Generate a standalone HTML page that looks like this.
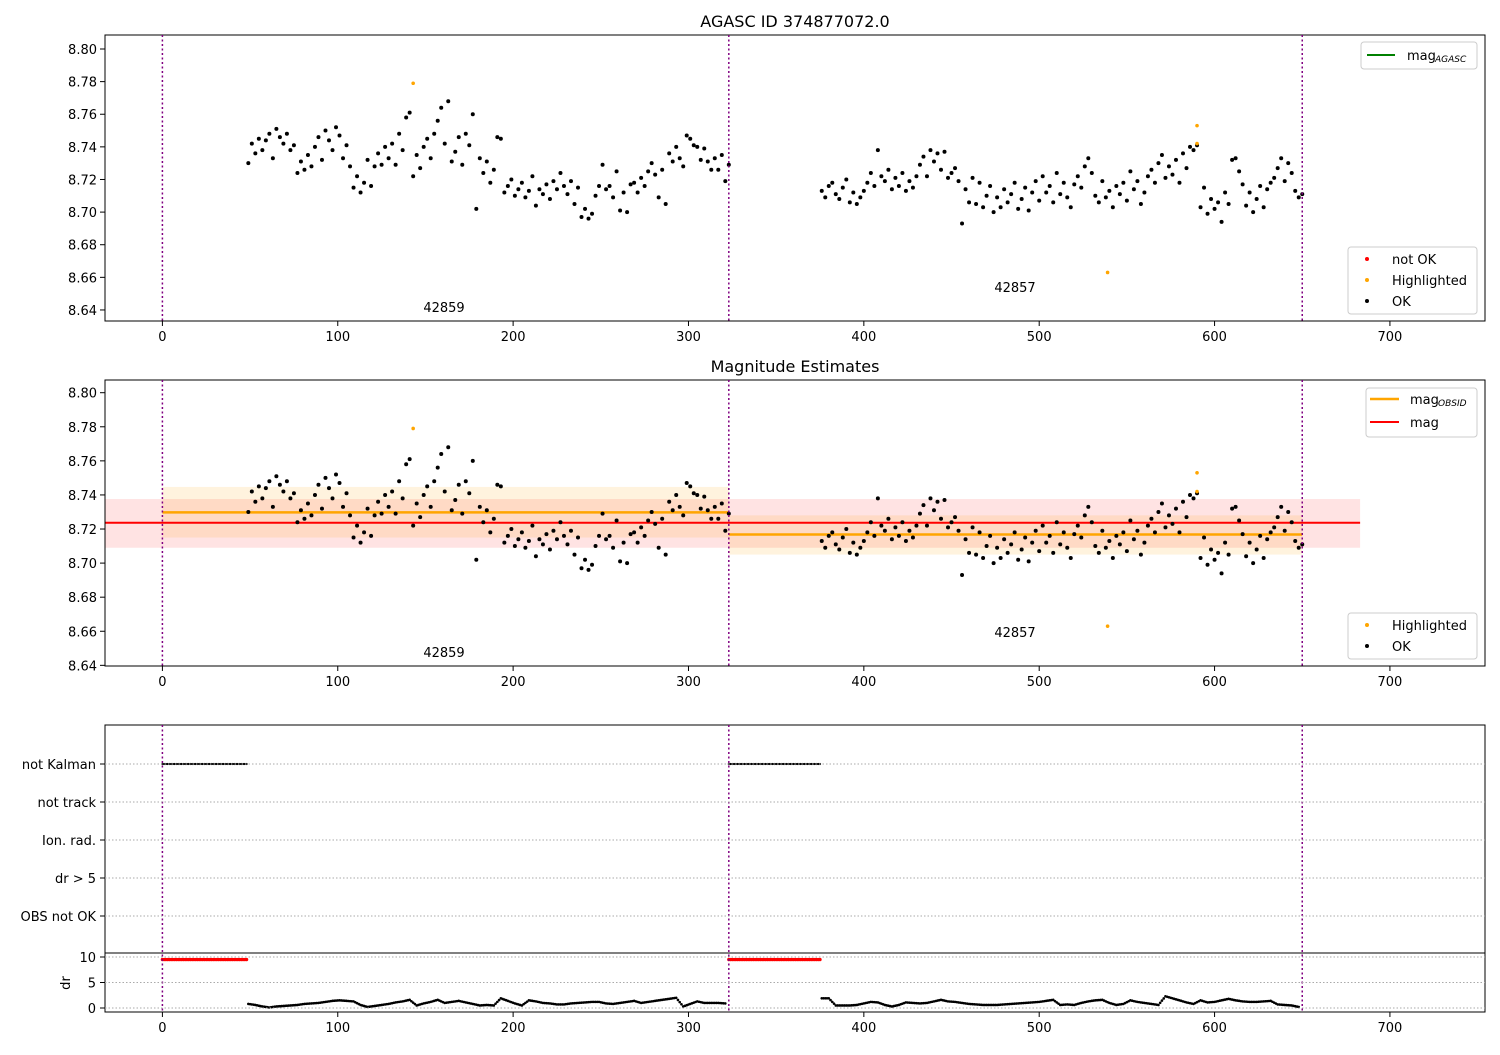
<!DOCTYPE html>
<html><head><meta charset="utf-8"><style>
body{margin:0;background:#fff;}
svg text{font-family:"DejaVu Sans","Liberation Sans",sans-serif;fill:#000;}
</style></head><body>
<svg id="chart" width="1500" height="1050" xmlns="http://www.w3.org/2000/svg">
<g id="p2bg"></g>
<g id="marks"></g>
<g id="axes"></g>
<g id="legends"></g>
</svg>
<script>
const obsidStarts = [0, 323, 650];
const obsidLabels = ["42859", "42857"];
const segAStart = 49;
const segBStart = 376;
const magStep = 2;
const segAMag = [8.730,8.742,8.736,8.745,8.738,8.744,
8.748,8.733,8.751,8.746,8.742,8.748,8.738,8.741,
8.724,8.731,8.726,8.735,8.728,
8.740,8.746,8.732,8.750,8.744,8.738,8.752,8.747,8.733,8.741,
8.728,8.715,8.722,8.712,8.718,
8.732,8.716,8.728,8.736,8.729,8.740,8.733,
8.742,8.729,8.748,8.738,8.758,8.761,
8.722,8.735,8.727,8.740,
8.745,8.733,8.748,8.756,8.764,8.742,8.768,8.731,
8.737,8.746,8.729,8.748,8.741,8.760,
8.702,8.733,8.724,8.731,8.718,8.726,
8.746,8.745,
8.712,8.716,8.720,8.710,8.714,8.718,8.709,8.713,8.722,8.704,8.714,8.711,8.717,8.708,8.719,8.714,
8.724,8.716,8.711,8.719,8.705,8.715,
8.697,8.702,8.696,8.699,8.710,8.716,
8.729,8.714,8.716,8.709,8.725,8.701,8.712,8.700,
8.717,8.718,8.712,8.721,8.716,8.725,8.730,8.723,
8.709,8.726,8.705,8.736,8.731,
8.740,8.733,8.728,8.747,8.745,
8.741,8.740,8.732,8.739,8.731,8.726,8.733,
8.726,8.735,8.719,8.729];
const segBMag = [8.713,8.709,8.716,8.718,8.711,8.708,8.715,8.720,
8.706,8.712,8.705,8.709,8.713,
8.718,8.724,8.716,8.738,8.722,8.719,8.726,8.714,8.721,8.716,8.724,8.713,8.719,8.715,8.722,
8.729,8.734,8.722,8.738,8.731,8.736,8.726,8.737,
8.721,8.724,8.727,8.719,
8.693,
8.714,8.706,8.721,8.705,8.718,8.703,8.710,8.716,8.700,
8.709,8.703,8.714,8.706,8.711,8.718,8.702,8.708,8.715,8.701,8.712,8.719,8.707,
8.722,8.712,8.716,8.706,8.724,8.711,8.718,8.709,8.703,8.717,
8.722,8.715,8.728,8.733,8.724,8.710,8.706,8.719,
8.709,8.713,8.703,8.716,8.711,8.718,8.707,
8.725,8.714,8.719,8.705,8.712,
8.722,8.726,8.718,8.730,8.735,8.721,8.728,8.723,8.732,8.718,
8.736,8.727,8.740,8.738,8.741,
8.703,8.715,8.699,8.708,8.702,8.706,8.694,8.712,8.705,
8.732,8.733,8.725,8.717,
8.704,8.712,8.700,8.708,8.716,8.703,8.714,
8.718,8.721,8.727,8.733,8.719,8.730,8.724,
8.713,8.709,8.711];
const highlightTimes = [143, 539, 590, 590];
const highlightMags = [8.779, 8.663, 8.753, 8.742];
const magMean = 8.7237, magLow = 8.709, magHigh = 8.7376;
const obsidMean = [8.7298, 8.7168];
const obsidLow = [8.715, 8.705];
const obsidHigh = [8.7447, 8.728];
const drStep = 4;
const segADr = [0.8,0.6,0.3,0.1,0.3,0.4,0.5,0.6,0.8,0.9,1.0,1.2,1.4,1.5,1.4,1.3,0.6,0.2,0.4,0.6,0.8,1.1,1.3,1.6,0.5,0.9,1.2,1.6,1.0,1.2,1.4,1.1,0.8,0.5,0.6,0.5,1.9,1.4,0.9,0.5,1.5,1.3,1.0,0.9,0.7,0.7,0.9,1.0,1.1,1.2,1.2,0.9,0.8,1.0,1.2,1.4,1.0,1.2,1.4,1.6,1.8,2.0,0.3,0.8,1.3,1.0,1.0,1.0,0.9];
const segBDr = [1.9,1.9,0.5,0.5,0.5,0.6,0.9,1.2,1.1,0.6,0.3,0.6,1.1,1.0,0.9,1.0,1.3,1.6,1.3,1.2,1.0,0.8,0.7,0.6,0.6,0.6,0.7,0.8,0.9,1.0,1.1,1.2,1.4,1.6,0.6,0.7,0.6,1.0,1.3,1.5,1.6,1.0,0.6,0.8,1.5,1.2,1.0,0.8,0.6,2.3,1.9,1.5,1.1,0.8,1.5,1.1,1.2,1.5,1.8,1.5,1.3,1.2,1.2,1.3,1.4,0.7,0.6,0.5,0.2];
const notKalmanRanges = [[0, 48], [323, 375]];
const drCapped = 9.5;
const xTicks = [0,100,200,300,400,500,600,700];
const magTicks = [8.64,8.66,8.68,8.70,8.72,8.74,8.76,8.78,8.80];
const flagLabels = ["not Kalman","not track","Ion. rad.","dr > 5","OBS not OK"];
const drTicks = [0,5,10];

const NS="http://www.w3.org/2000/svg";
function mk(parent, tag, attrs, text){const e=document.createElementNS(NS,tag);for(const k in attrs)e.setAttribute(k,attrs[k]);if(text!==undefined)e.textContent=text;parent.appendChild(e);return e;}
const L=105,R=1485;
const X=t=>162.4+1.7536*t;
const Y1=v=>49+(8.80-v)*1631;
const Y2=v=>392.7+(8.80-v)*1704;
const YF=i=>764+38*i;
const YD=d=>1008-5.1*d;
const marks=document.getElementById('marks'), axes=document.getElementById('axes'), bg=document.getElementById('p2bg'), leg=document.getElementById('legends');

let e;
e=mk(bg,'rect',{x:L,y:Y2(magHigh),width:X(683)-L,height:Y2(magLow)-Y2(magHigh),fill:'red','fill-opacity':0.11});


for(let i=0;i<2;i++){
  e=mk(bg,'rect',{x:X(obsidStarts[i]),y:Y2(obsidHigh[i]),width:X(obsidStarts[i+1])-X(obsidStarts[i]),height:Y2(obsidLow[i])-Y2(obsidHigh[i]),fill:'orange','fill-opacity':0.13});
  
  
}
e=mk(bg,'line',{x1:L,x2:X(683),y1:Y2(magMean),y2:Y2(magMean),stroke:'red','stroke-width':2});


for(let i=0;i<2;i++){
  e=mk(bg,'line',{x1:X(obsidStarts[i]),x2:X(obsidStarts[i+1]),y1:Y2(obsidMean[i]),y2:Y2(obsidMean[i]),stroke:'orange','stroke-width':2.5});
  
  
}

function pts(arr,start,step){return arr.map((v,i)=>[start+i*step,v]);}
const allPts=pts(segAMag,segAStart,magStep).concat(pts(segBMag,segBStart,magStep));
for(const Yf of [Y1,Y2]){
  for(const [t,v] of allPts){
    e=mk(marks,'circle',{cx:X(t),cy:Yf(v),r:2.0,fill:'#000'});
    
    
  }
  highlightTimes.forEach((t,i)=>{
    e=mk(marks,'circle',{cx:X(t),cy:Yf(highlightMags[i]),r:1.8,fill:'orange'});
    
    
  });
}
for(const [a,b] of notKalmanRanges){
  for(let t=a;t<=b;t++){
    e=mk(marks,'circle',{cx:X(t),cy:YF(0),r:1.1,fill:'#000'});
    
    
    e=mk(marks,'circle',{cx:X(t),cy:YD(drCapped),r:1.7,fill:'red'});
    
    
  }
}
const drPts=pts(segADr,segAStart,drStep).concat(pts(segBDr,segBStart,drStep));
for(let k=0;k<drPts.length;k++){
  const [t,d]=drPts[k];
  const nx=drPts[k+1];
  const sub=(nx && nx[0]-t===drStep)?4:1;
  for(let j=0;j<sub;j++){
    const f=j/4;
    const dd=sub>1? d+(nx[1]-d)*f : d;
    e=mk(marks,'circle',{cx:X(t+f*drStep),cy:YD(dd),r:1.3,fill:'#000'});
    
    
  }
}

function frame(y0,y1,name){
  const r=mk(axes,'rect',{x:L,y:y0,width:R-L,height:y1-y0,fill:'none',stroke:'#000','stroke-width':1});
  
  
}
frame(35,321,'top-axes');frame(380,666,'middle-axes');frame(725,953,'flags-axes');frame(953,1012,'dr-axes');
for(const [y0,y1] of [[35,321],[380,666],[725,1012]]){
  for(const t of obsidStarts){
    e=mk(axes,'line',{x1:X(t),x2:X(t),y1:y0,y2:y1,stroke:'purple','stroke-width':1.5,'stroke-dasharray':'2,2.5'});
    
    
  }
}
for(const yb of [321,666,1012]){
  for(const t of xTicks){
    mk(axes,'line',{x1:X(t),x2:X(t),y1:yb,y2:yb+5,stroke:'#000'});
    e=mk(axes,'text',{x:X(t),y:yb+20,'font-size':13,'text-anchor':'middle'},String(t));
    
    
  }
}
for(const Yf of [Y1,Y2]){
  for(const v of magTicks){
    mk(axes,'line',{x1:L-5,x2:L,y1:Yf(v),y2:Yf(v),stroke:'#000'});
    e=mk(axes,'text',{x:L-8,y:Yf(v)+5,'font-size':13,'text-anchor':'end'},v.toFixed(2));
    
    
  }
}
flagLabels.forEach((s,i)=>{
  mk(axes,'line',{x1:L,x2:R,y1:YF(i),y2:YF(i),stroke:'#aaa','stroke-dasharray':'1.5,2'});
  mk(axes,'line',{x1:L-5,x2:L,y1:YF(i),y2:YF(i),stroke:'#000'});
  e=mk(axes,'text',{x:L-9,y:YF(i)+5,'font-size':13,'text-anchor':'end'},s);
  
  
});
drTicks.forEach(d=>{
  mk(axes,'line',{x1:L,x2:R,y1:YD(d),y2:YD(d),stroke:'#aaa','stroke-dasharray':'1.5,2'});
  mk(axes,'line',{x1:L-5,x2:L,y1:YD(d),y2:YD(d),stroke:'#000'});
  e=mk(axes,'text',{x:L-9,y:YD(d)+5,'font-size':13,'text-anchor':'end'},String(d));
  
  
});
e=mk(axes,'text',{x:70,y:983,'font-size':13,'text-anchor':'middle',transform:'rotate(-90 70 983)'},'dr');


e=mk(axes,'text',{x:795,y:27,'font-size':16,'text-anchor':'middle'},'AGASC ID 374877072.0');


e=mk(axes,'text',{x:795,y:372,'font-size':16,'text-anchor':'middle'},'Magnitude Estimates');


for(const dy of [0,345]){
  e=mk(axes,'text',{x:444,y:312+dy,'font-size':13,'text-anchor':'middle'},obsidLabels[0]);
  
  
  e=mk(axes,'text',{x:1015,y:292+dy,'font-size':13,'text-anchor':'middle'},obsidLabels[1]);
  
  
}
function box(x,y,w,h,name){const b=mk(leg,'rect',{x,y,width:w,height:h,fill:'#fff','fill-opacity':0.85,stroke:'#ccc',rx:3});}
box(1361,42,116,27,'legend-agasc');
mk(leg,'line',{x1:1367,x2:1395,y1:55,y2:55,stroke:'green','stroke-width':2});
mk(leg,'text',{x:1407,y:60,'font-size':13},'mag');
mk(leg,'text',{x:1435,y:62,'font-size':9,'font-style':'italic'},'AGASC');
box(1348,247,129,67,'legend-quality');
[['red','not OK',259],['orange','Highlighted',280],['#000','OK',301]].forEach(([c,s,y])=>{
  mk(leg,'circle',{cx:1367,cy:y,r:2,fill:c});
  e=mk(leg,'text',{x:1392,y:y+5,'font-size':13},s);
  
  
});
box(1366,388,111,49,'legend-estimates');
mk(leg,'line',{x1:1370,x2:1399,y1:399,y2:399,stroke:'orange','stroke-width':2.5});
mk(leg,'text',{x:1410,y:404,'font-size':13},'mag');
mk(leg,'text',{x:1438,y:406,'font-size':9,'font-style':'italic'},'OBSID');
mk(leg,'line',{x1:1370,x2:1399,y1:422,y2:422,stroke:'red','stroke-width':2});
mk(leg,'text',{x:1410,y:427,'font-size':13},'mag');
box(1348,613,129,46,'legend-quality-2');
[['orange','Highlighted',625],['#000','OK',646]].forEach(([c,s,y])=>{
  mk(leg,'circle',{cx:1367,cy:y,r:2,fill:c});
  e=mk(leg,'text',{x:1392,y:y+5,'font-size':13},s);
  
  
});
</script>
</body></html>
